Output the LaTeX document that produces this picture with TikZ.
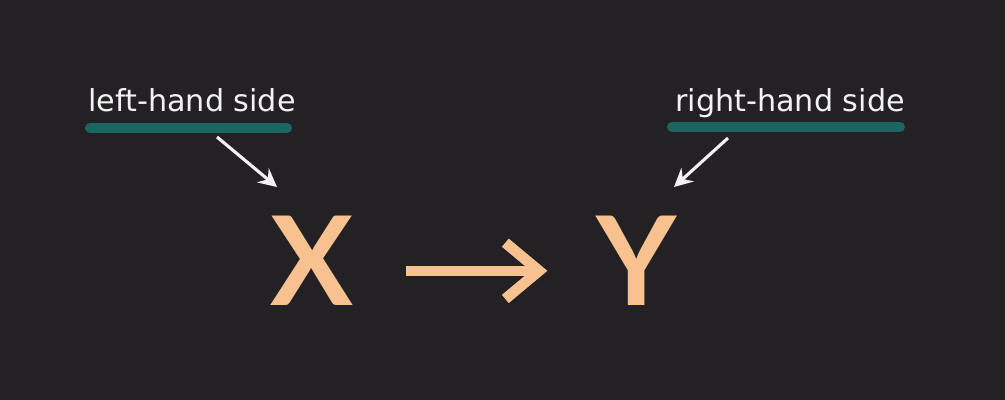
\documentclass[tikz,border=0pt]{standalone}
\usepackage{fontspec}
\usepackage{tikz}
\usetikzlibrary{positioning, arrows.meta}
\newfontfamily\labelfont{DejaVu Sans}
\newfontfamily\varfont{Lato}
\definecolor{bgdark}{RGB}{35,33,36}
\definecolor{barteal}{RGB}{28,102,98}
\definecolor{peach}{RGB}{247,194,143}
\definecolor{offwhite}{RGB}{242,242,242}

\begin{document}
\begin{tikzpicture}[x=0.025cm, y=-0.025cm,
        sidelabel/.style={
            text=offwhite, inner sep=0pt, anchor=base,
            font=\labelfont\fontsize{21.5}{25}\selectfont
        },
        underbar/.style={draw=barteal, line width=7.1pt, line cap=round},
        pointer/.style={draw=offwhite, line width=2.2pt,
            -{Stealth[length=13pt, width=13pt, inset=4.5pt]}},
        varnode/.style={
            text=peach, inner sep=0pt,
            font=\varfont\bfseries\fontsize{88}{95}\selectfont
        },
        maparrow/.style={draw=peach, line width=7.6pt,
            -{Straight Barb[length=24pt, width=40pt]},
            shorten <=37pt, shorten >=35pt}
    ]
        \fill[bgdark] (0,0) rectangle (1005,400);
        \useasboundingbox (0,0) rectangle (1005,400);

        \node[sidelabel] (lhs) at (192,112) {left-hand side};
        \node[sidelabel] (rhs) at (790,112) {right-hand side};

        \draw[underbar] (90,128) -- (287,128);
        \draw[underbar] (672,127) -- (900,127);

        \node[varnode] (x) at (312,261) {X};
        \node[varnode] (y) at (637,261) {Y};

        \coordinate (lhs tail) at (217,137);
        \coordinate (rhs tail) at (728,138);
        \draw[pointer] (lhs tail) -- (277,187);
        \draw[pointer] (rhs tail) -- (674,187);

        \draw[maparrow] ([yshift=-7pt]x.east) -- ([yshift=-7pt]y.west);
    \end{tikzpicture}
\end{document}
